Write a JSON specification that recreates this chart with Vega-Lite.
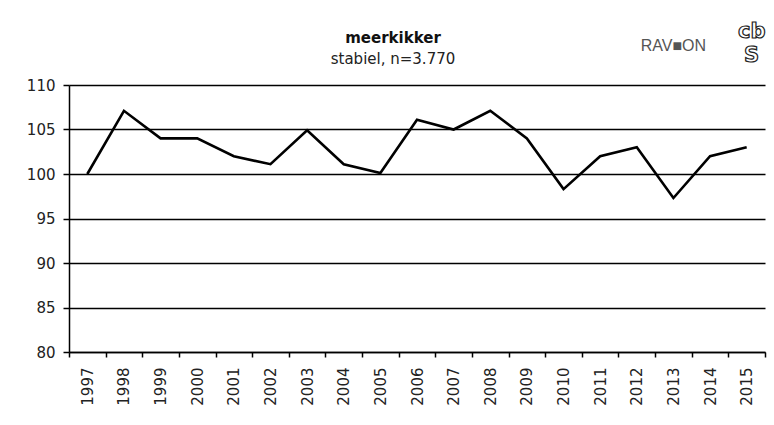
{
  "$schema": "https://vega.github.io/schema/vega-lite/v6.json",
  "autosize": "none",
  "width": 696,
  "height": 267,
  "padding": {"left": 69, "top": 85, "right": 9, "bottom": 73},
  "background": "white",
  "title": {
    "text": "meerkikker",
    "subtitle": "stabiel, n=3.770",
    "anchor": "middle",
    "frame": "group",
    "dx": -24,
    "offset": -46,
    "font": "DejaVu Sans",
    "fontSize": 15,
    "fontWeight": "bold",
    "color": "#111",
    "subtitleFont": "DejaVu Sans",
    "subtitleFontSize": 15,
    "subtitleColor": "#222",
    "subtitlePadding": 6
  },
  "config": {
    "view": {"stroke": null},
    "axis": {
      "labelFont": "DejaVu Sans",
      "labelFontSize": 15,
      "labelColor": "#222",
      "domainColor": "#000",
      "domainWidth": 1.5,
      "tickColor": "#000",
      "tickWidth": 1.5,
      "gridColor": "#000",
      "gridWidth": 1.5,
      "gridOpacity": 1
    }
  },
  "datasets": {
    "series": [
      {"jaar": "1997", "index": 100.0},
      {"jaar": "1998", "index": 107.1},
      {"jaar": "1999", "index": 104.0},
      {"jaar": "2000", "index": 104.0},
      {"jaar": "2001", "index": 102.0},
      {"jaar": "2002", "index": 101.1},
      {"jaar": "2003", "index": 104.9},
      {"jaar": "2004", "index": 101.1},
      {"jaar": "2005", "index": 100.1},
      {"jaar": "2006", "index": 106.1},
      {"jaar": "2007", "index": 105.0},
      {"jaar": "2008", "index": 107.1},
      {"jaar": "2009", "index": 104.0},
      {"jaar": "2010", "index": 98.3},
      {"jaar": "2011", "index": 102.0},
      {"jaar": "2012", "index": 103.0},
      {"jaar": "2013", "index": 97.3},
      {"jaar": "2014", "index": 102.0},
      {"jaar": "2015", "index": 103.0}
    ],
    "ravon": [
      {"jaar": "2013", "pos": 114.4, "tekst": "RAV■ON"}
    ],
    "cbs": [
      {"jaar": "2015", "pos": 115.9, "tekst": "cb"},
      {"jaar": "2015", "pos": 113.3, "tekst": "S"}
    ]
  },
  "layer": [
    {
      "data": {"name": "series"},
      "mark": {"type": "line", "color": "#000", "strokeWidth": 2.6, "strokeJoin": "miter"},
      "encoding": {
        "x": {
          "field": "jaar",
          "type": "ordinal",
          "bandPosition": 0.5,
          "scale": {"type": "band", "paddingInner": 0, "paddingOuter": 0},
          "axis": {
            "title": null,
            "labelAngle": -90,
            "labelAlign": "right",
            "labelBaseline": "middle",
            "labelPadding": 10,
            "tickBand": "extent",
            "tickSize": 5,
            "grid": false
          }
        },
        "y": {
          "field": "index",
          "type": "quantitative",
          "scale": {"domain": [80, 110], "nice": false, "zero": false},
          "axis": {
            "title": null,
            "values": [80, 85, 90, 95, 100, 105, 110],
            "tickSize": 6,
            "labelPadding": 8,
            "grid": true
          }
        }
      }
    },
    {
      "data": {"name": "ravon"},
      "mark": {"type": "text", "clip": false, "font": "Liberation Sans", "fontSize": 16, "color": "#555"},
      "encoding": {
        "x": {"field": "jaar", "type": "ordinal", "bandPosition": 0.5},
        "y": {"field": "pos", "type": "quantitative"},
        "text": {"field": "tekst"}
      }
    },
    {
      "data": {"name": "cbs"},
      "mark": {"type": "text", "clip": false, "font": "DejaVu Sans", "fontSize": 21, "fontWeight": "bold", "color": "#fff", "stroke": "#222", "strokeWidth": 1.2, "dx": 5},
      "encoding": {
        "x": {"field": "jaar", "type": "ordinal", "bandPosition": 0.5},
        "y": {"field": "pos", "type": "quantitative"},
        "text": {"field": "tekst"}
      }
    }
  ]
}
